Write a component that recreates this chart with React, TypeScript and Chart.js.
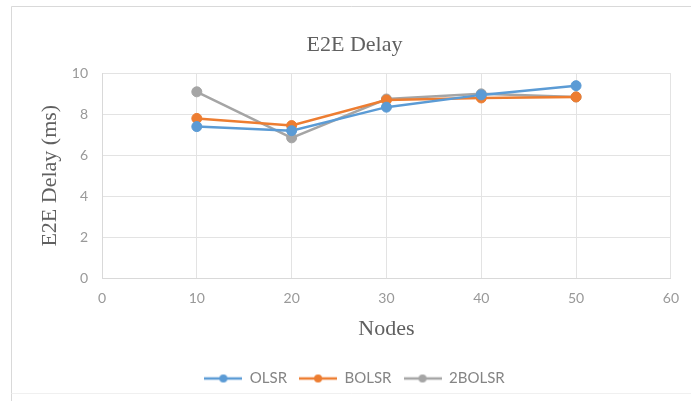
import React, { useEffect, useRef } from "react";
import { Chart, registerables } from "chart.js";

Chart.register(...registerables);

const nodes = [10, 20, 30, 40, 50];
const olsr = [7.4, 7.2, 8.35, 8.95, 9.4];
const bolsr = [7.8, 7.45, 8.7, 8.8, 8.85];
const bolsr2 = [9.1, 6.85, 8.75, 9.0, 8.85];
const seriesNames = ["OLSR", "BOLSR", "2BOLSR"];
const seriesColors = ["#5B9BD5", "#ED7D31", "#A5A5A5"];

function legendMarker(color: string) {
  const c = document.createElement("canvas");
  c.width = 38;
  c.height = 12;
  const ctx = c.getContext("2d")!;
  ctx.strokeStyle = color;
  ctx.lineWidth = 2.5;
  ctx.beginPath();
  ctx.moveTo(0, 6);
  ctx.lineTo(38, 6);
  ctx.stroke();
  ctx.fillStyle = color;
  ctx.beginPath();
  ctx.arc(19, 6, 4, 0, Math.PI * 2);
  ctx.fill();
  return c;
}

const framePlugin = {
  id: "frame",
  beforeDraw(chart: any) {
    const ctx = chart.ctx;
    ctx.save();
    ctx.fillStyle = "#ffffff";
    ctx.fillRect(0, 0, chart.width, chart.height);
    ctx.strokeStyle = "#d9d9d9";
    ctx.lineWidth = 1;
    ctx.beginPath();
    ctx.moveTo(11.5, 401);
    ctx.lineTo(11.5, 6.5);
    ctx.lineTo(691, 6.5);
    ctx.stroke();
    ctx.strokeStyle = "#f0f0f0";
    ctx.beginPath();
    ctx.moveTo(11.5, 393.5);
    ctx.lineTo(691, 393.5);
    ctx.stroke();
    ctx.restore();
  },
};

export default function App() {
  const ref = useRef<HTMLCanvasElement | null>(null);
  useEffect(() => {
    if (!ref.current) return;
    const series = [olsr, bolsr, bolsr2];
    const chart = new Chart(ref.current, {
      type: "line",
      data: {
        datasets: series.map((vals, i) => ({
          label: seriesNames[i],
          data: nodes.map((n, j) => ({ x: n, y: vals[j] })),
          borderColor: seriesColors[i],
          backgroundColor: seriesColors[i],
          borderWidth: 2.5,
          pointRadius: 5,
          pointBorderWidth: 1,
          pointStyle: "circle",
          tension: 0,
        })),
      },
      options: {
        responsive: false,
        animation: false,
        layout: { padding: { left: 37, right: 19, top: 0, bottom: 5 } },
        plugins: {
          title: {
            display: true,
            text: "E2E Delay",
            color: "#606060",
            font: { family: "'Liberation Serif', serif", size: 22, weight: "normal" },
            padding: { top: 32, bottom: 15 },
          },
          legend: {
            position: "bottom",
            labels: {
              color: "#858585",
              font: { family: "Lato, sans-serif", size: 15 },
              usePointStyle: true,
              pointStyleWidth: 38,
              padding: 12,
              generateLabels: (ch: any) =>
                ch.data.datasets.map((ds: any, i: number) => ({
                  text: ds.label,
                  fillStyle: seriesColors[i],
                  strokeStyle: seriesColors[i],
                  fontColor: "#858585",
                  lineWidth: 0,
                  pointStyle: legendMarker(seriesColors[i]),
                  datasetIndex: i,
                  hidden: false,
                })),
            },
          },
          tooltip: { enabled: false },
        },
        scales: {
          x: {
            type: "linear",
            min: 0,
            max: 60,
            ticks: {
              stepSize: 10,
              color: "#999999",
              font: { family: "Lato, sans-serif", size: 14 },
              padding: 12,
            },
            grid: { color: "#e3e3e3", drawTicks: false },
            border: { color: "#d9d9d9" },
            title: {
              display: true,
              text: "Nodes",
              color: "#606060",
              font: { family: "'Liberation Serif', serif", size: 22, weight: "normal" },
              padding: { top: 4, bottom: 17 },
            },
            afterFit: (s: any) => {
              s.height = 81;
            },
          },
          y: {
            min: 0,
            max: 10,
            ticks: {
              stepSize: 2,
              color: "#999999",
              font: { family: "Lato, sans-serif", size: 14 },
              padding: 14,
            },
            grid: { color: "#e3e3e3", drawTicks: false },
            border: { color: "#d9d9d9" },
            title: {
              display: true,
              text: "E2E Delay (ms)",
              color: "#606060",
              font: { family: "'Liberation Serif', serif", size: 22, weight: "normal" },
              padding: { top: 0, bottom: 0 },
            },
            afterFit: (s: any) => {
              s.width = 65;
            },
          },
        },
      },
      plugins: [framePlugin],
    });
    return () => chart.destroy();
  }, []);
  return (
    <div style={{ position: "absolute", left: 0, top: 0, width: 691, height: 401 }}>
      <canvas ref={ref} width={691} height={401} />
    </div>
  );
}
